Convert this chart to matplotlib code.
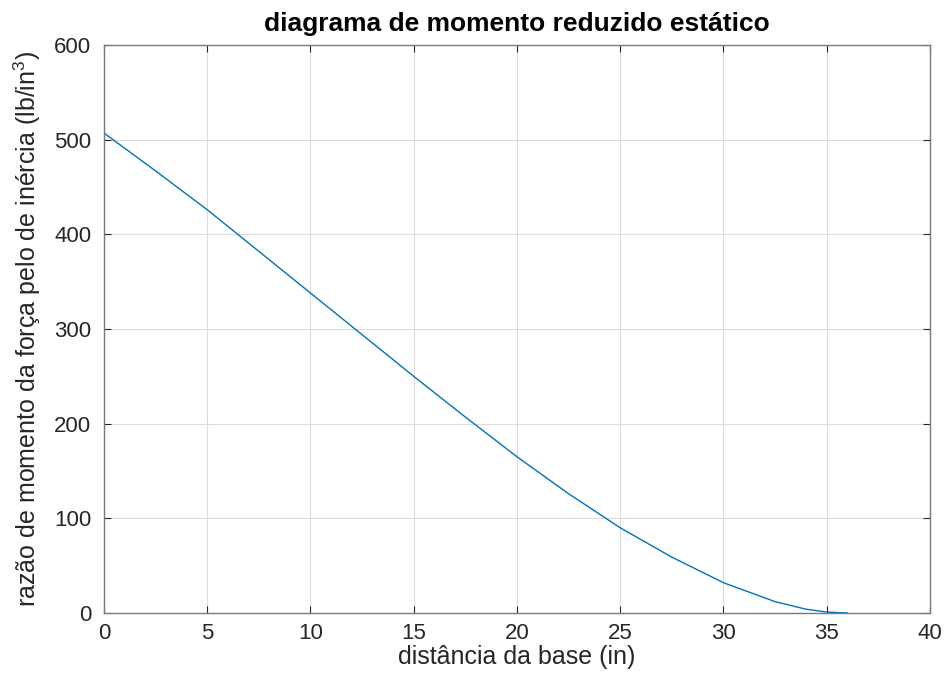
import matplotlib
matplotlib.use("Agg")
import matplotlib.pyplot as plt

# values
dist_in = [0, 2.5, 5, 7.5, 10, 12.5, 15, 17.5, 20, 22.5, 25, 27.5, 30, 32.5, 34, 35, 36]
moment_ratio = [507, 467, 426, 382, 338, 294, 250, 207, 165, 126, 90, 59, 32, 12, 4, 1, 0]

x_ticks = [0, 5, 10, 15, 20, 25, 30, 35, 40]
y_ticks = [0, 100, 200, 300, 400, 500, 600]

plt.rcParams['font.family'] = ['Liberation Sans', 'DejaVu Sans']
plt.rcParams['mathtext.fontset'] = 'custom'
plt.rcParams['mathtext.rm'] = 'Liberation Sans'
plt.rcParams['mathtext.it'] = 'Liberation Sans'

axis_col = '#262626'
fig = plt.figure(figsize=(9.48, 6.79), dpi=100)
ax = fig.add_axes([0.1097, 0.0972, 0.8713, 0.8365])

ax.plot(dist_in, moment_ratio, color='#0072BD', lw=1.0)

ax.set_xlim(0, 40)
ax.set_ylim(0, 600)
ax.set_xticks(x_ticks)
ax.set_yticks(y_ticks)
ax.grid(True, color='#dcdcdc', lw=0.8)
ax.set_axisbelow(True)
ax.tick_params(direction='in', top=True, right=True, length=5, width=0.8,
               colors=axis_col, labelsize=16)
ax.tick_params(axis='y', pad=9)
ax.tick_params(axis='x', pad=7)
for s in ax.spines.values():
    s.set_color('#7a7a7a')
    s.set_linewidth(1.0)

ax.set_xlabel('distância da base (in)', fontsize=18, color=axis_col, labelpad=1)
ax.set_ylabel('razão de momento da força pelo de inércia (lb/in$^{3}$)',
              fontsize=18, color=axis_col, labelpad=8)
ax.set_title('diagrama de momento reduzido estático', fontsize=19,
             fontweight='bold', color='black', pad=10)

fig.savefig('out.png', dpi=100)
